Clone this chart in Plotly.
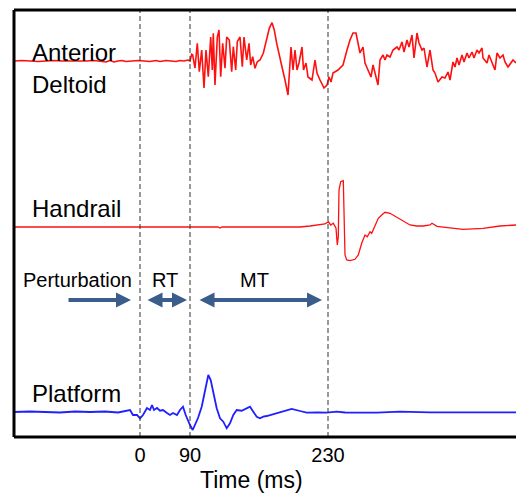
import plotly.graph_objects as go

# ---------------- data ----------------
# horizontal sample positions (arbitrary time units) and signal amplitudes (arbitrary units, up = positive)
deltoid_t = [14, 22, 30, 38, 46, 54, 62, 70, 78, 86, 94, 100, 106, 110, 114, 118, 122, 126, 132, 138,
             144, 150, 156, 160, 166, 172, 176, 180, 184, 188, 190,
             191.7, 192.7, 195, 197.3, 199.3, 201.7, 204, 206, 208.3, 210.7, 212.3, 213.3, 215, 217.3, 219,
             220.7, 222.7, 225, 226.7, 229.3, 231.7, 233.3, 235.7, 237.3, 240, 242.3, 244, 246.7, 249,
             250.7, 252.7, 255, 257.3, 260, 263.3, 266, 269.3, 272, 274.3, 276.7, 279.3,
             282, 285, 288, 291, 293, 295, 297, 299, 302, 303.5, 306, 308, 312, 315, 317, 320, 324, 327,
             329, 331, 333, 338, 343, 347, 350, 353, 356, 358, 360, 363, 365, 368, 371, 373, 375, 378,
             380, 383, 385, 387, 390, 393, 397, 399, 402, 404, 407, 409, 412, 414, 417, 419, 422, 424,
             427, 430, 433, 435, 438, 442, 445, 448, 450, 453, 455, 457, 459, 462, 464, 467, 469, 472,
             474, 477, 479, 482, 483, 487, 489, 492, 495, 497, 500, 503, 505, 508, 511, 513, 516]
deltoid_v = [0, 0.5, 0, -0.5, 0, 0.5, 0, 0, -0.5, 0, 0.5, 0, -1, 0.5, -1, 0, 0.5, -0.5, 0, 0.5,
             0, -0.5, 0.5, -0.5, 0.5, 0, -0.5, 0.5, 0, 1, 0,
             6.7, 6, -7, 17.7, -10.7, 11, -27, 11, -15.7, 24, -9, 27.7, -24, 24, 31,
             -15.7, 17.7, -7.3, 24, 21, -10.7, 14.3, -9, 19.3, 24, -5.7, 24, 1, 17.7,
             -4, 4.3, -7.3, -0.7, 1, 7.7, 17.7, 32.7, 38.3, 31, 17.7, 4.3,
             -6, -19, -34, 14, -9, 11, -9, -2, 14, -9, -2, -16, -19, 1, -12, -19, -27, -24,
             -16, -21, -12, -9, -4, 11, 21, 28, 28, 18, 8, 14, -2, -9, -16, -4, -12, -24,
             1, 6, 1, 6, 4, 11, 14, 11, 19, 9, 21, 14, 26, 3, 28, 18, 11, 13,
             -6, 11, -9, -12, -21, -16, -17, -11, -19, -1, -6, 3, -4, 6, -1, 8, 3, 9,
             3, 11, 8, 13, 3, -2, 6, -2, -9, 8, 3, 6, -1, -6, -2, 1, -2]

handrail_t = [14, 100, 200, 218, 220, 222, 250, 300, 310, 325, 328.3, 330.7, 333.3, 336, 337.3, 338.3,
              339, 340.7, 343.3, 344, 345, 346.7, 350, 355, 358.3, 361.7, 365, 367.3, 370, 371.7,
              375, 378.3, 381.7, 385, 390, 396.7, 403.3, 410, 416.7, 423.3, 430, 432, 437, 450, 463,
              483, 500, 516]
handrail_v = [0, 0, 0, 0, -1, 0, 0, 0, 1, 3, 5.3, 2, 3.7, -1.3, -18, -9.7,
              37, 45.3, 46.3, 24, -28, -33, -33.7, -32.3, -28, -16.3, -8, -9.7, -4.7, -6.3,
              2, 8.7, 12, 14.7, 13.7, 9.7, 5.3, 2, 1, 1, 2, 3.7, 0.7, -1, -2.3,
              -1.3, 1, 2]

platform_t = [14, 30, 45, 60, 75, 90, 105, 118, 130, 133, 137, 140, 143, 147, 150, 152, 154, 157, 160,
              163, 167, 170, 173, 177, 180, 183, 185.7, 187.7, 190, 192.7, 195, 198, 201.7, 205,
              208.3, 210.7, 213.3, 216.7, 220, 223.3, 226.7, 228, 230, 233.3, 236.7, 241.7, 246.7,
              250, 253.3, 256.7, 260, 263.3, 266.7, 270, 276.7, 283.3, 286.7, 291.7, 300, 306.7,
              318, 326.7, 336.7, 345, 356.7, 376.7, 400, 423, 430, 463, 490, 516]
platform_v = [0, 0.5, 0, -0.5, 0.5, 0, 0.5, -0.5, 2, -3, -3, -6.3, -3, 4, 2, 7, 2, 4, 1.3,
              2, -1, -3, -1, -3, 2, 5.3, -3, -8, -13, -18, -13, -6, 5.3, 22,
              37, 32, 18.7, 3.7, -6.3, -9.7, -16.3, -14, -11.3, -3, 2, 1.3, 3.7,
              5.3, 0.3, -4.7, -6.3, -4.7, -4, -3, -1.3, 0.3, 2, 3, 1, -0.7,
              -0.5, -0.7, 0.3, -0.5, -0.7, -0.7, 0.3, -0.5, -0.3, -0.3, 0, -0.3]

# marker positions on the time axis and their labels
event_pos = [140, 190, 328]
event_labels = ["0", "90", "230"]

# ---------------- figure ----------------
FONT = "Liberation Sans, Arial, sans-serif"
off_deltoid, off_handrail, off_platform = 376, 210, 25
PLOT_H = 427.0

fig = go.Figure()
fig.add_trace(go.Scatter(x=deltoid_t, y=[off_deltoid + v for v in deltoid_v], mode="lines",
                         line=dict(color="#ff1010", width=1.6), hoverinfo="skip"))
fig.add_trace(go.Scatter(x=handrail_t, y=[off_handrail + v for v in handrail_v], mode="lines",
                         line=dict(color="#ff1010", width=1.3), hoverinfo="skip"))
fig.add_trace(go.Scatter(x=platform_t, y=[off_platform + v for v in platform_v], mode="lines",
                         line=dict(color="#1f1fff", width=1.8), hoverinfo="skip"))

# dashed event lines
for p in event_pos:
    fig.add_shape(type="line", xref="x", yref="paper", x0=p, x1=p, y0=0, y1=1,
                  line=dict(color="#333333", width=1, dash="5px,3px"))

# frame: left, top, bottom
for (x0, y0, x1, y1) in [(0, 0, 0, 1), (0, 1, 1, 1), (0, 0, 1, 0)]:
    fig.add_shape(type="line", xref="paper", yref="paper", x0=x0, y0=y0, x1=x1, y1=y1,
                  line=dict(color="black", width=3))

def label(text, x, y, size):
    fig.add_annotation(text=text, x=x, y=y, xref="x", yref="y", xanchor="left", yanchor="middle",
                       showarrow=False, font=dict(family=FONT, size=size, color="black"))

label("Anterior", 30, 437 - 52, 24)
label("Deltoid", 30, 437 - 84, 24)
label("Handrail", 30, 437 - 208, 24)
label("Perturbation", 21, 437 - 280, 20)
label("RT", 150, 437 - 280, 20)
label("MT", 238, 437 - 280, 20)
label("Platform", 30, 437 - 393, 24)

ARROW = "#3a5d8c"
def arrow(x_tail, x_tip, both):
    fig.add_annotation(x=x_tip, y=437 - 300, ax=x_tail, ay=437 - 300, xref="x", yref="y",
                       axref="x", ayref="y", text="", showarrow=True, arrowhead=2, arrowsize=0.75,
                       arrowwidth=4, arrowcolor=ARROW, arrowside="end+start" if both else "end",
                       standoff=0, startstandoff=0, startarrowhead=2, startarrowsize=0.75)

arrow(67, 131, False)
arrow(146, 187, True)
arrow(198, 322, True)

fig.add_annotation(text="Time (ms)", x=251, y=-43 / PLOT_H, xref="x", yref="paper", showarrow=False,
                   xanchor="center", yanchor="middle", font=dict(family=FONT, size=23, color="black"))

fig.update_layout(
    width=516, height=493, margin=dict(l=14, r=0, t=10, b=56),
    paper_bgcolor="white", plot_bgcolor="white", showlegend=False,
    xaxis=dict(range=[14, 516], showgrid=False, zeroline=False, showline=False,
               tickvals=event_pos, ticktext=event_labels, ticks="", ticklabelstandoff=4,
               tickfont=dict(family=FONT, size=20, color="black")),
    yaxis=dict(range=[0, 427], showgrid=False, zeroline=False, showline=False,
               showticklabels=False, ticks=""),
)

# remove the default page margin so the figure fills the window exactly
fig.write_html("out.html", config={"displayModeBar": False},
               post_script="document.body.style.margin='0';document.body.style.overflow='hidden';")
